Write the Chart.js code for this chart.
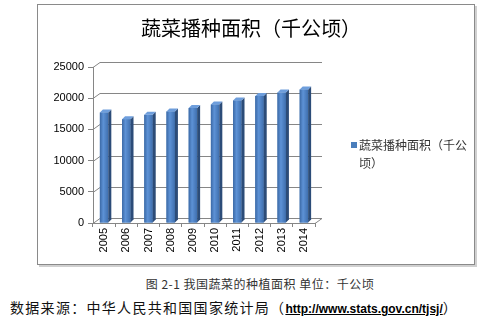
<!DOCTYPE html>
<html>
<head>
<meta charset="utf-8">
<script src="https://cdn.jsdelivr.net/npm/chart.js@4"></script>
<style>
  html, body { margin: 0; padding: 0; background: #fff; }
  body { width: 496px; height: 325px; position: relative; overflow: hidden; }
  #box {
    position: absolute; left: 37px; top: 4px; width: 436px; height: 259px;
    border: 1px solid #8a8a8a;
    box-shadow: 2px 2px 0 #d0d0d0;
  }
  #box canvas { display: block; }
  #caption {
    position: absolute; left: 0; width: 520px; top: 275px; text-align: center;
    font: 12px "Noto Sans CJK SC", sans-serif; color: #333; letter-spacing: 0.5px;
  }
  #source {
    position: absolute; left: 10px; top: 297px; white-space: nowrap;
    font: 14px "Noto Sans CJK SC", sans-serif; color: #111; letter-spacing: 1.3px;
  }
  #source a { font: bold 12px "Liberation Sans", sans-serif; color: #000; letter-spacing: 0; text-decoration: underline; }
</style>
</head>
<body>
<div id="box"><canvas id="areaChart" width="436" height="259"></canvas></div>
<div id="caption">图 2-1 我国蔬菜的种植面积 单位：千公顷</div>
<div id="source">数据来源：中华人民共和国国家统计局（<a>http://www.stats.gov.cn/tjsj/</a>）</div>
<script>
// Vegetable sown area, thousand hectares
const years = ['2005', '2006', '2007', '2008', '2009', '2010', '2011', '2012', '2013', '2014'];
const sownArea = [17721, 16639, 17329, 17876, 18414, 19000, 19639, 20353, 20899, 21405];
const seriesLabel = '蔬菜播种面积（千公顷）';
const chartTitle = '蔬菜播种面积（千公顷）';
const yMax = 25000;
const yStep = 5000;

const GRID = '#868686';
const DX = 7, DY = 5;   // back wall offset
const BX = 3, BY = 3;   // bar depth

// back wall gridlines and floor, drawn in fake 3D
const wall3d = {
  id: 'wall3d',
  beforeDatasetsDraw(chart) {
    const { ctx, chartArea: a, scales: { y } } = chart;
    ctx.save();
    ctx.strokeStyle = GRID;
    ctx.lineWidth = 1;
    ctx.beginPath();
    y.ticks.forEach(t => {
      const py = Math.round(y.getPixelForValue(t.value)) + 0.5;
      ctx.moveTo(a.left, py);
      ctx.lineTo(a.left + DX, py - DY);
      ctx.lineTo(a.right + DX, py - DY);
    });
    const base = Math.round(y.getPixelForValue(0)) + 0.5;
    ctx.moveTo(a.right, base);
    ctx.lineTo(a.right + DX, base - DY);
    ctx.stroke();
    ctx.restore();
  }
};

// side and top faces of the columns + shading on the front
const bars3d = {
  id: 'bars3d',
  afterDatasetsDraw(chart) {
    const { ctx } = chart;
    const meta = chart.getDatasetMeta(0);
    ctx.save();
    meta.data.forEach(bar => {
      const { x, y, width, base } = bar.getProps(['x', 'y', 'width', 'base'], true);
      const l = x - width / 2, r = x + width / 2;
      const g = ctx.createLinearGradient(l, 0, r, 0);
      g.addColorStop(0, '#3b69a6');
      g.addColorStop(0.4, '#5d92d6');
      g.addColorStop(1, '#3f6fae');
      ctx.fillStyle = g;
      ctx.fillRect(l, y, width, base - y);
      ctx.fillStyle = '#2c4c78';
      ctx.beginPath();
      ctx.moveTo(r, y); ctx.lineTo(r + BX, y - BY); ctx.lineTo(r + BX, base - BY); ctx.lineTo(r, base);
      ctx.closePath(); ctx.fill();
      ctx.fillStyle = '#6e9edc';
      ctx.beginPath();
      ctx.moveTo(l, y); ctx.lineTo(l + BX, y - BY); ctx.lineTo(r + BX, y - BY); ctx.lineTo(r, y);
      ctx.closePath(); ctx.fill();
    });
    ctx.restore();
  }
};

// legend on the right, wrapped over two lines
const sideLegend = {
  id: 'sideLegend',
  afterDraw(chart) {
    const { ctx, chartArea: a } = chart;
    const ds = chart.data.datasets[0];
    const sx = a.right + 36, sy = a.top + 75;
    ctx.save();
    ctx.fillStyle = '#4a7ebb';
    ctx.fillRect(sx, sy, 6, 6);
    ctx.font = '12px "Noto Sans CJK SC"';
    ctx.fillStyle = '#333';
    ctx.textBaseline = 'middle';
    const maxW = 110;
    const lines = [];
    let cur = '';
    for (const ch of ds.label) {
      if (ctx.measureText(cur + ch).width > maxW) { lines.push(cur); cur = ch; } else cur += ch;
    }
    if (cur) lines.push(cur);
    lines.forEach((s, i) => ctx.fillText(s, sx + 8, sy + 3 + i * 18));
    ctx.restore();
  }
};

new Chart(document.getElementById('areaChart'), {
  type: 'bar',
  data: {
    labels: years,
    datasets: [{
      label: seriesLabel,
      data: sownArea,
      backgroundColor: '#4a7ebb',
      borderWidth: 0,
      categoryPercentage: 1,
      barPercentage: 0.38
    }]
  },
  options: {
    responsive: false,
    animation: false,
    devicePixelRatio: 1,
    layout: { padding: { left: 0, right: 10, top: 0, bottom: 0 } },
    scales: {
      x: {
        grid: { drawOnChartArea: false, color: GRID, tickLength: 4, offset: true },
        border: { color: GRID },
        ticks: {
          minRotation: 90, maxRotation: 90, padding: 1,
          color: '#000', font: { family: 'Liberation Sans', size: 11 }
        },
        afterFit(s) { s.height = 41; }
      },
      y: {
        min: 0, max: yMax,
        grid: { drawOnChartArea: false, color: GRID, tickLength: 5 },
        border: { color: GRID },
        ticks: {
          stepSize: yStep, padding: 4,
          color: '#000', font: { family: 'Liberation Sans', size: 11 },
          callback: v => String(v)
        },
        afterFit(s) { s.width = 55; }
      },
      spacer: {
        position: 'right', display: true,
        grid: { display: false }, border: { display: false }, ticks: { display: false },
        afterFit(s) { s.width = 149; }
      }
    },
    plugins: {
      legend: { display: false },
      tooltip: { enabled: false },
      title: {
        display: true,
        text: chartTitle,
        color: '#000',
        font: { family: 'Noto Sans CJK SC', size: 20, weight: 'normal', lineHeight: 1.2 },
        padding: { top: 11, bottom: 27 }
      }
    }
  },
  plugins: [wall3d, bars3d, sideLegend]
});
</script>
</body>
</html>
